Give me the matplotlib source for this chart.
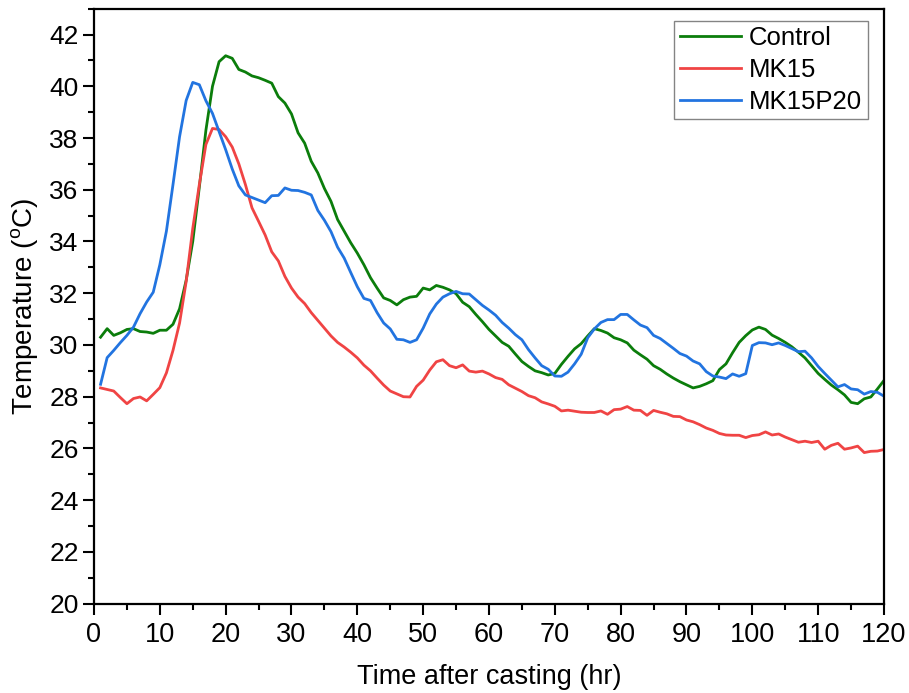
import matplotlib
matplotlib.use("Agg")
import matplotlib.pyplot as plt
import numpy as np
from matplotlib.ticker import MultipleLocator

plt.rcParams['font.family'] = ['Liberation Sans', 'DejaVu Sans']
plt.rcParams['mathtext.fontset'] = 'custom'
plt.rcParams['mathtext.rm'] = 'Liberation Sans'

hours = np.arange(1, 121)

control = [30.3, 30.63, 30.37, 30.47, 30.6, 30.63, 30.52, 30.5, 30.45, 30.57,
           30.57, 30.8, 31.4, 32.5, 34.0, 36.1, 38.3, 40.0, 40.95, 41.18,
           41.08, 40.65, 40.55, 40.4, 40.33, 40.23, 40.12, 39.6, 39.35, 38.93,
           38.2, 37.8, 37.1, 36.65, 36.05, 35.55, 34.85, 34.4, 33.95, 33.55,
           33.1, 32.6, 32.2, 31.82, 31.72, 31.55, 31.75, 31.85, 31.88, 32.2,
           32.13, 32.3, 32.23, 32.13, 31.98, 31.65, 31.48, 31.18, 30.9, 30.6,
           30.35, 30.1, 29.95, 29.65, 29.36, 29.17, 29.0, 28.93, 28.84, 28.9,
           29.25, 29.56, 29.85, 30.05, 30.35, 30.63, 30.56, 30.46, 30.28, 30.2,
           30.08, 29.8, 29.62, 29.45, 29.2, 29.06, 28.88, 28.72, 28.58, 28.46,
           28.34, 28.4, 28.5, 28.62, 29.05, 29.27, 29.7, 30.1, 30.36, 30.58,
           30.69, 30.6, 30.38, 30.25, 30.1, 29.93, 29.72, 29.5, 29.2, 28.9,
           28.67, 28.45, 28.27, 28.07, 27.78, 27.73, 27.92, 27.99, 28.3, 28.63]

mk15 = [28.34, 28.28, 28.22, 27.97, 27.73, 27.93, 27.99, 27.84, 28.09, 28.35,
        28.92, 29.79, 30.85, 32.45, 34.5, 36.2, 37.75, 38.37, 38.33, 38.05,
        37.65, 37.0, 36.2, 35.3, 34.78, 34.25, 33.6, 33.25, 32.65, 32.2,
        31.85, 31.6, 31.25, 30.95, 30.65, 30.35, 30.1, 29.92, 29.72, 29.5,
        29.22, 29.0, 28.72, 28.45, 28.22, 28.11, 28.0, 27.99, 28.4, 28.64,
        29.03, 29.35, 29.43, 29.2, 29.12, 29.23, 28.99, 28.95, 28.99, 28.88,
        28.74, 28.67, 28.46, 28.33, 28.2, 28.04, 27.96, 27.8, 27.72, 27.63,
        27.45, 27.48, 27.44, 27.4, 27.39, 27.39, 27.45, 27.32, 27.5, 27.52,
        27.62, 27.48, 27.47, 27.28, 27.47, 27.4, 27.34, 27.24, 27.23, 27.1,
        27.03, 26.92, 26.79, 26.7, 26.58, 26.52, 26.51, 26.51, 26.42, 26.5,
        26.53, 26.64, 26.52, 26.56, 26.44, 26.34, 26.24, 26.28, 26.23, 26.28,
        25.97, 26.12, 26.2, 25.97, 26.02, 26.09, 25.84, 25.89, 25.9, 25.96]

mk15p20 = [28.48, 29.51, 29.79, 30.09, 30.37, 30.69, 31.21, 31.66, 32.04, 33.1,
           34.4, 36.2, 38.05, 39.45, 40.15, 40.06, 39.44, 38.95, 38.25, 37.55,
           36.8, 36.15, 35.8, 35.7, 35.6, 35.5, 35.77, 35.78, 36.07, 35.98,
           35.97, 35.9, 35.8, 35.2, 34.82, 34.38, 33.78, 33.36, 32.8, 32.25,
           31.8, 31.72, 31.25, 30.85, 30.62, 30.22, 30.2, 30.1, 30.2, 30.65,
           31.2, 31.58, 31.85, 31.98, 32.07, 31.98, 31.97, 31.75, 31.53, 31.35,
           31.15, 30.87, 30.65, 30.4, 30.2, 29.82, 29.5, 29.2, 29.06, 28.8,
           28.79, 28.95, 29.27, 29.64, 30.28, 30.62, 30.87, 30.98, 30.98, 31.18,
           31.18, 30.97, 30.77, 30.67, 30.37, 30.25, 30.06, 29.87, 29.67, 29.57,
           29.38, 29.27, 28.97, 28.8, 28.76, 28.7, 28.88, 28.79, 28.89, 29.98,
           30.09, 30.08, 30.01, 30.08, 29.98, 29.86, 29.74, 29.76, 29.5, 29.17,
           28.9, 28.64, 28.38, 28.47, 28.3, 28.27, 28.1, 28.2, 28.17, 28.02]

fig = plt.figure(figsize=(9.09, 6.93), dpi=100)
ax = fig.add_axes([0.1034, 0.1289, 0.8691, 0.8586])

ax.plot(hours, control, color='#0b7d0b', lw=2.0, label='Control')
ax.plot(hours, mk15, color='#f04444', lw=2.0, label='MK15')
ax.plot(hours, mk15p20, color='#2274e0', lw=2.0, label='MK15P20')

ax.set_xlim(0, 120)
ax.set_ylim(20, 43)
ax.xaxis.set_major_locator(MultipleLocator(10))
ax.xaxis.set_minor_locator(MultipleLocator(5))
ax.yaxis.set_major_locator(MultipleLocator(2))
ax.yaxis.set_minor_locator(MultipleLocator(1))
ax.tick_params(which='major', direction='out', length=8, width=1.5)
ax.tick_params(which='minor', direction='out', length=4, width=1.5)
ax.tick_params(axis='x', labelsize=19.5, pad=5)
ax.tick_params(axis='y', labelsize=19, pad=3)
for s in ax.spines.values():
    s.set_linewidth(1.6)

ax.set_xlabel('Time after casting (hr)', fontsize=19.5, labelpad=12)
ax.set_ylabel('Temperature ($^{\\rm o}$C)', fontsize=20, labelpad=6)

leg = ax.legend(loc='upper right', bbox_to_anchor=(0.9797, 0.9798),
                fontsize=18.5, frameon=True, fancybox=False,
                edgecolor='#666666', handlelength=2.4, handletextpad=0.3,
                borderpad=0.22, labelspacing=0.3, borderaxespad=0)
leg.get_frame().set_linewidth(1.0)

fig.savefig('out.png', dpi=100)
